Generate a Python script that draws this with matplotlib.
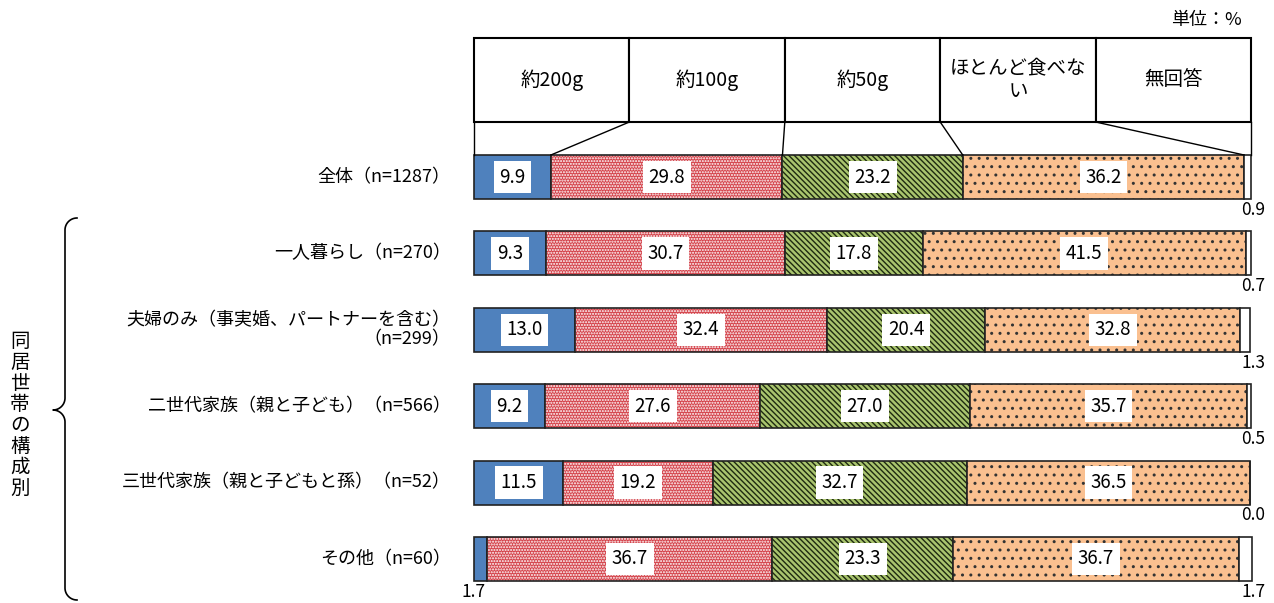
import numpy as np
import matplotlib
matplotlib.use('Agg')
from matplotlib import pyplot as plt

plt.rcParams['font.family'] = ['Noto Sans CJK JP', 'DejaVu Sans']
plt.rcParams['hatch.linewidth'] = 1.0

# categories and values
groups = ['全体（n=1287）', '一人暮らし（n=270）',
          '夫婦のみ（事実婚、パートナーを含む）\n（n=299）',
          '二世代家族（親と子ども）（n=566）',
          '三世代家族（親と子どもと孫）（n=52）', 'その他（n=60）']
answers = ['約200g', '約100g', '約50g', 'ほとんど食べな\nい', '無回答']
g200 = [9.9, 9.3, 13.0, 9.2, 11.5, 1.7]
g100 = [29.8, 30.7, 32.4, 27.6, 19.2, 36.7]
g50 = [23.2, 17.8, 20.4, 27.0, 32.7, 23.3]
none_ = [36.2, 41.5, 32.8, 35.7, 36.5, 36.7]
noans = [0.9, 0.7, 1.3, 0.5, 0.0, 1.7]

series = [g200, g100, g50, none_, noans]
faces = ['#4F81BD', '#D4434B', '#A9C46E', '#FAC090', 'white']
hatch_cols = ['#4F81BD', 'white', '#1E2A10', '#333333', 'white']
hatches = [None, '......', '\\' * 6, '..', None]
num_font = ['Liberation Sans Narrow', 'Noto Sans CJK JP']

fig = plt.figure(figsize=(12.74, 6.03), dpi=100)
W, H = 1274, 603
x0, x1 = 474, 1251
row0, rstep = 177, 76.4
ax = fig.add_axes([x0 / W, 0, (x1 - x0) / W, 1])
ax.set_xlim(0, 100)
ax.set_ylim((H - row0) / rstep, -row0 / rstep)
ax.axis('off')

y = np.arange(len(groups))
bh = 0.576
left = np.zeros(len(groups))
for k, vals in enumerate(series):
    vals = np.array(vals)
    ax.barh(y, vals, left=left, height=bh, color=faces[k],
            edgecolor=hatch_cols[k], linewidth=0, hatch=hatches[k],
            clip_on=False)
    ax.barh(y, vals, left=left, height=bh, color='none',
            edgecolor='#222222', linewidth=1.2, clip_on=False)
    for i, v in enumerate(vals):
        cx = left[i] + v / 2
        if v >= 5 and k < 4:
            ax.text(cx, y[i], f'{v:.1f}', ha='center', va='center',
                    fontsize=13.5, family=num_font,
                    bbox=dict(facecolor='white', edgecolor='none', pad=4))
    left += vals

# small values below the bars
for i in range(len(groups)):
    if g200[i] < 5:
        ax.text(0, y[i] + 0.43, f'{g200[i]:.1f}', ha='center', va='center',
                fontsize=12.5, family=num_font)
    ax.text(100.3, y[i] + 0.43, f'{noans[i]:.1f}', ha='center', va='center',
            fontsize=12.5, family=num_font)

# group labels
for i, g in enumerate(groups):
    ax.text(-3.0, y[i], g, ha='right', va='center', fontsize=13,
            linespacing=1.1)

# header boxes
top_h, bot_h, bar_top = -1.82, -0.72, -bh / 2
edges = np.linspace(0, 100, len(answers) + 1)
for j, a in enumerate(answers):
    ax.add_patch(plt.Rectangle((edges[j], top_h), edges[j + 1] - edges[j],
                               bot_h - top_h, facecolor='white',
                               edgecolor='black', linewidth=1.5,
                               clip_on=False))
    ax.text((edges[j] + edges[j + 1]) / 2, (top_h + bot_h) / 2, a,
            ha='center', va='center', fontsize=14, linespacing=1.1,
            multialignment='center')

# connector lines from header to first bar
cum0 = np.cumsum([s[0] for s in series])
ax.plot([0, 0], [bot_h, bar_top], color='black', lw=1, clip_on=False)
ax.plot([100, 100], [bot_h, bar_top], color='black', lw=1, clip_on=False)
for j in range(1, len(answers)):
    ax.plot([edges[j], cum0[j - 1]], [bot_h, bar_top], color='black', lw=1,
            clip_on=False)

ax.text(98.8, -2.05, '単位：%', ha='right', va='center', fontsize=13)

# brace and group title
sx = 100 / (x1 - x0)
def px(v):
    return (v - x0) * sx
def py(v):
    return (v - row0) / rstep
t = np.linspace(0, np.pi / 2, 20)
r = 12
bx, tip_y, top_y, bot_y = 65, 410, 218, 600
xs = list(px(bx + r - r * np.sin(t)))
ys = list(py(top_y + r - r * np.cos(t)))
xs += [px(bx)]; ys += [py(tip_y - r)]
xs += list(px(bx - r + r * np.cos(t))); ys += list(py(tip_y - r + r * np.sin(t)))
xs += list(px(bx - r + r * np.cos(t[::-1]))); ys += list(py(tip_y + r - r * np.sin(t[::-1])))
xs += [px(bx)]; ys += [py(bot_y - r)]
xs += list(px(bx + r - r * np.cos(t))); ys += list(py(bot_y - r + r * np.sin(t)))
ax.plot(xs, ys, color='black', lw=1.2, clip_on=False)

title = '同居世帯の構成別'
ax.text(px(20), py(415), '\n'.join(title), ha='center', va='center',
        fontsize=14, linespacing=1.0)

fig.savefig('out.png', dpi=100)
